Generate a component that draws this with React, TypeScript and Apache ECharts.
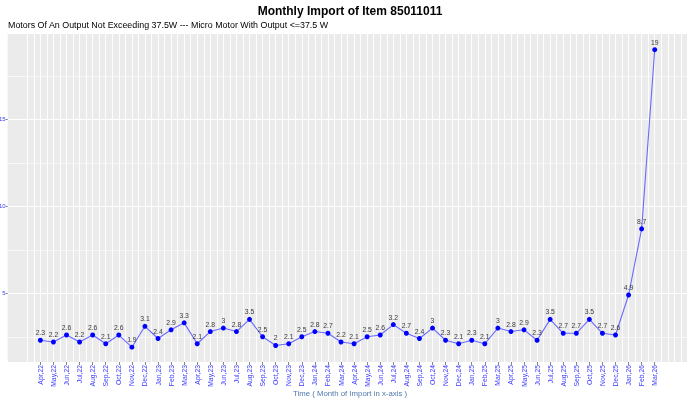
import React, { useEffect, useRef } from "react";
import * as echarts from "echarts";

const months = [
  "Apr,22","May,22","Jun,22","Jul,22","Aug,22","Sep,22","Oct,22","Nov,22","Dec,22",
  "Jan,23","Feb,23","Mar,23","Apr,23","May,23","Jun,23","Jul,23","Aug,23","Sep,23","Oct,23","Nov,23","Dec,23",
  "Jan,24","Feb,24","Mar,24","Apr,24","May,24","Jun,24","Jul,24","Aug,24","Sep,24","Oct,24","Nov,24","Dec,24",
  "Jan,25","Feb,25","Mar,25","Apr,25","May,25","Jun,25","Jul,25","Aug,25","Sep,25","Oct,25","Nov,25","Dec,25",
  "Jan,26","Feb,26","Mar,26",
];

const values = [
  2.3, 2.2, 2.6, 2.2, 2.6, 2.1, 2.6, 1.9, 3.1,
  2.4, 2.9, 3.3, 2.1, 2.8, 3, 2.8, 3.5, 2.5, 2, 2.1, 2.5,
  2.8, 2.7, 2.2, 2.1, 2.5, 2.6, 3.2, 2.7, 2.4, 3, 2.3, 2.1,
  2.3, 2.1, 3, 2.8, 2.9, 2.3, 3.5, 2.7, 2.7, 3.5, 2.7, 2.6,
  4.9, 8.7, 19,
];

const titleText = "Monthly Import of Item 85011011";
const subtitleText = "Motors Of An Output Not Exceeding 37.5W --- Micro Motor With Output <=37.5 W";
const xAxisTitle = "Time ( Month of Import in x-axis )";

// half-month slots: first slot is 2.5 months before the first month, last is 1.5 after the last month
const leadSlots = 5;
const totalSlots = leadSlots + months.length * 2 + 4;
const slots = Array.from({ length: totalSlots }, (_, k) => "s" + k);
const isMonthSlot = (k: number) =>
  k >= leadSlots && k <= leadSlots + (months.length - 1) * 2 && (k - leadSlots) % 2 === 0;

export default function App() {
  const ref = useRef<HTMLDivElement>(null);
  useEffect(() => {
    if (!ref.current) return;
    const chart = echarts.init(ref.current, null, { renderer: "svg" });
    const font = "'Liberation Sans', Arial, sans-serif";
    chart.setOption({
      animation: false,
      textStyle: { fontFamily: font },
      graphic: [
        {
          type: "text",
          x: 350,
          y: 11,
          style: {
            text: titleText,
            fontFamily: font,
            fontSize: 12,
            fontWeight: "bold",
            fill: "#000",
            align: "center",
            verticalAlign: "middle",
          },
        },
        {
          type: "text",
          x: 8,
          y: 25,
          style: {
            text: subtitleText,
            fontFamily: font,
            fontSize: 8.9,
            fill: "#000",
            align: "left",
            verticalAlign: "middle",
          },
        },
        {
          type: "text",
          x: 350,
          y: 393,
          style: {
            text: xAxisTitle,
            fontFamily: font,
            fontSize: 7.8,
            fill: "#4f78ad",
            align: "center",
            verticalAlign: "middle",
          },
        },
      ],
      grid: {
        left: 7.7,
        right: 1.6,
        top: 34,
        bottom: 41,
        show: true,
        backgroundColor: "#EBEBEB",
        borderWidth: 0,
        outerBoundsMode: "none",
        containLabel: false,
      },
      xAxis: {
        type: "category",
        data: slots,
        boundaryGap: false,
        axisLine: { show: false },
        axisTick: {
          show: true,
          length: 3,
          lineStyle: { color: "#333", width: 0.6 },
          interval: (index: number) => isMonthSlot(index),
        },
        axisLabel: {
          show: true,
          rotate: 90,
          fontSize: 6.8,
          color: "#3b3bff",
          margin: 3,
          interval: (index: number) => isMonthSlot(index),
          formatter: (_v: string, index: number) =>
            isMonthSlot(index) ? months[(index - leadSlots) / 2] : "",
        },
        splitLine: {
          show: true,
          interval: (index: number) => index >= 3,
          lineStyle: { color: "#ffffff", width: 0.9 },
        },
      },
      yAxis: {
        type: "value",
        min: 1.05,
        max: 19.9,
        splitNumber: 4,
        axisLine: { show: false },
        axisTick: { show: true, length: 2, lineStyle: { color: "#333", width: 0.6 } },
        axisLabel: {
          fontSize: 6,
          color: "#3b3bff",
          margin: 2,
          showMinLabel: false,
          showMaxLabel: false,
        },
        splitLine: {
          show: true,
          showMinLine: false,
          showMaxLine: false,
          lineStyle: { color: "#ffffff", width: 1.1 },
        },
        minorTick: { show: false, splitNumber: 2 },
        minorSplitLine: { show: true, lineStyle: { color: "#ffffff", width: 0.6 } },
      },
      series: [
        {
          type: "line",
          data: values.map((v, i) => [leadSlots + i * 2, v]),
          symbol: "circle",
          symbolSize: 5,
          lineStyle: { color: "#6a6aff", width: 1.1 },
          itemStyle: { color: "#0000ff" },
          label: {
            show: true,
            position: "top",
            distance: 1.5,
            fontSize: 6.8,
            color: "#3a3a3a",
            formatter: (p: any) => String(p.value[1]),
          },
        },
      ],
    });
    return () => chart.dispose();
  }, []);
  return (
    <div
      ref={ref}
      style={{ position: "fixed", left: 0, top: 0, width: 689, height: 403 }}
    />
  );
}
